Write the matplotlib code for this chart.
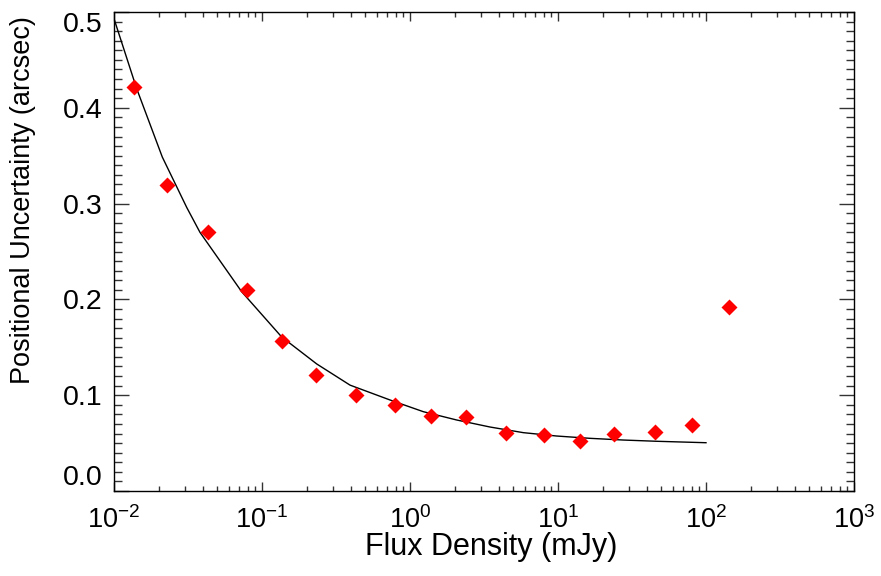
import matplotlib
matplotlib.use('Agg')
import matplotlib.pyplot as plt
from matplotlib.ticker import MultipleLocator

plt.rcParams['font.family'] = ['Liberation Sans', 'DejaVu Sans']
plt.rcParams['mathtext.fontset'] = 'custom'
plt.rcParams['mathtext.rm'] = 'Liberation Sans'
plt.rcParams['mathtext.it'] = 'Liberation Sans:italic'
plt.rcParams['mathtext.bf'] = 'Liberation Sans:bold'

# binned positional uncertainty vs flux density
flux = [0.0137, 0.0228, 0.043, 0.079, 0.137, 0.232, 0.43, 0.79, 1.39,
        2.39, 4.45, 8.1, 14.0, 23.9, 45.0, 80.0, 142.0]
sigma = [0.422, 0.319, 0.270, 0.210, 0.157, 0.121, 0.100, 0.090, 0.078,
         0.077, 0.061, 0.058, 0.052, 0.060, 0.062, 0.069, 0.192]

# fitted curve, points
fit_flux = [0.0100, 0.01423, 0.0212, 0.0310, 0.0381, 0.0729, 0.1358,
            0.2344, 0.3936, 0.733, 1.23, 2.07, 3.47, 5.83, 9.79,
            16.4, 27.6, 46.4, 100.0]
fit_sigma = [0.493, 0.420, 0.3486, 0.296, 0.270, 0.208, 0.1608, 0.1326,
             0.1105, 0.095, 0.0828, 0.0741, 0.0668, 0.0609,
             0.0574, 0.0550, 0.0532, 0.0519, 0.0504]

xtick_vals = [1e-2, 1e-1, 1e0, 1e1, 1e2, 1e3]
xtick_labels = ['$10^{-2}$', '$10^{-1}$', '$10^{0}$', '$10^{1}$', '$10^{2}$', '$10^{3}$']
ytick_vals = [0.0, 0.1, 0.2, 0.3, 0.4, 0.5]
ytick_labels = ['0.0', '0.1', '0.2', '0.3', '0.4', '0.5']

fig = plt.figure(figsize=(8.81, 5.76), dpi=100)
ax = fig.add_axes([114 / 881, 1 - 491 / 576, 740 / 881, 479 / 576])

ax.plot(fit_flux, fit_sigma, color='black', lw=1.0)
ax.plot(flux, sigma, 'D', color='#ff0000', ms=8, mec='none')

ax.set_xscale('log')
ax.set_xlim(1e-2, 1e3)
ax.set_ylim(0, 0.5)
ax.set_xticks(xtick_vals)
ax.set_xticklabels(xtick_labels)
ax.set_yticks(ytick_vals)
ax.set_yticklabels(ytick_labels)
ax.yaxis.set_minor_locator(MultipleLocator(0.01))

ax.tick_params(which='both', direction='in', top=True, right=True,
               color='#333333', width=1)
ax.tick_params(axis='x', which='major', length=6.8, pad=11, labelsize=19.5)
ax.tick_params(axis='x', which='minor', length=3.6)
ax.tick_params(axis='y', which='major', length=10.8, pad=8, labelsize=20.5)
ax.tick_params(axis='y', which='minor', length=5.8)
for s in ax.spines.values():
    s.set_linewidth(1)

# IDL keeps the end labels inside the axis range
ylabs = ax.get_yticklabels()
ylabs[0].set_va('bottom')
ylabs[-1].set_va('top')

fig.text(491 / 881, 1 - 555 / 576, 'Flux Density (mJy)', fontsize=22,
         ha='center', va='baseline')
fig.text(23 / 881, 1 - 200 / 576, 'Positional Uncertainty (arcsec)', fontsize=19.5,
         rotation=90, ha='center', va='center')

fig.savefig('out.png', dpi=100)
